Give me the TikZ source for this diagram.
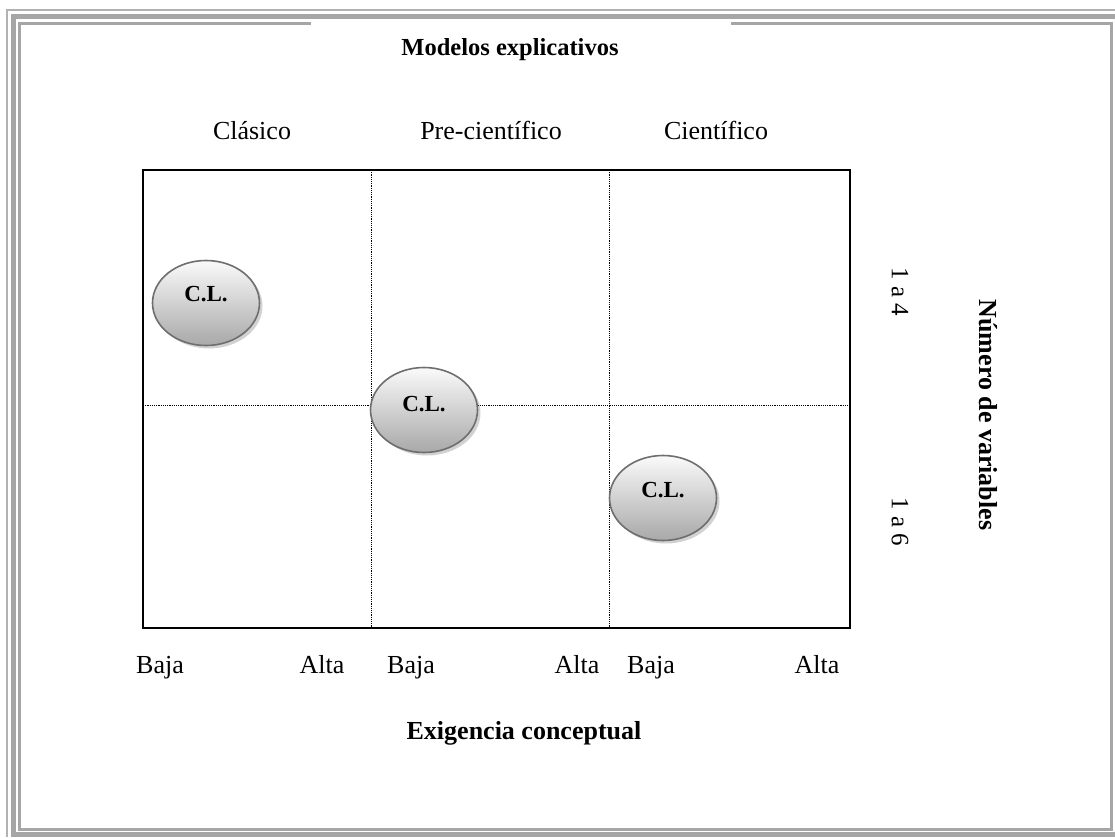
\documentclass[tikz,border=0pt]{standalone}
\usepackage{fontspec}
\setmainfont{Liberation Serif}
\usetikzlibrary{shapes.geometric,shadows}
\definecolor{frameA}{HTML}{B2B2B2}
\definecolor{frameB}{HTML}{A6A6A6}
\definecolor{rimgray}{HTML}{6E6E6E}
\begin{document}
\begin{tikzpicture}[x=1pt,y=-1pt,
  lbl/.style={inner sep=0pt, anchor=base, font=\fontsize{26}{30}\selectfont},
  blbl/.style={inner sep=0pt, anchor=base, font=\fontsize{26}{30}\selectfont\bfseries},
  vlbl/.style={inner sep=0pt, rotate=-90, font=\fontsize{25}{29}\selectfont},
  grid/.style={line width=1pt, dash pattern=on 1.2pt off 1pt},
  cl/.style={ellipse, minimum width=107pt, minimum height=85pt,
    draw=rimgray, line width=1.6pt, top color=gray!4, bottom color=gray!68,
    drop shadow={shadow xshift=3pt, shadow yshift=-3pt, opacity=0.35, fill=gray}},
  cltext/.style={inner sep=0pt, font=\fontsize{23}{27}\selectfont\bfseries}]
\useasboundingbox (0,0) rectangle (1115,837);
\fill[white] (0,0) rectangle (1115,837);

% page border
\draw[frameA, line width=2pt] (7,837) -- (7,10) -- (1115,10);
\draw[frameB, line width=5pt] (13.5,837) -- (13.5,16.5) -- (1115,16.5);
\draw[frameB, line width=5pt] (11,834.5) -- (1115,834.5);
\draw[frameB, line width=3pt] (311,24) -- (19.5,24) -- (19.5,829.5) -- (1111.5,829.5) -- (1111.5,24) -- (731,24);

% chart box and subdivisions
\coordinate (tl) at (143,170);
\coordinate (br) at (850,628);
\draw[line width=2pt] (tl) rectangle (br);
\coordinate (v1t) at (371,170); \coordinate (v1b) at (371,628);
\coordinate (v2t) at (609,170); \coordinate (v2b) at (609,628);
\coordinate (hl) at (143,405); \coordinate (hr) at (850,405);
\draw[grid] (v1t) -- (v1b);
\draw[grid] (v2t) -- (v2b);
\draw[grid] (hl) -- (hr);

% titles and labels
\node[blbl, font=\fontsize{24.5}{28}\selectfont\bfseries] (title) at (510,56) {Modelos explicativos};
\node[lbl] (m1) at (252,140) {Clásico};
\node[lbl] (m2) at (491,140) {Pre-científico};
\node[lbl] (m3) at (716,140) {Científico};

\node[lbl] (b1) at (160,673) {Baja};
\node[lbl] (a1) at (322,673) {Alta};
\node[lbl] (b2) at (411,673) {Baja};
\node[lbl] (a2) at (577,673) {Alta};
\node[lbl] (b3) at (651,673) {Baja};
\node[lbl] (a3) at (817,673) {Alta};
\node[blbl] (xaxis) at (524,739) {Exigencia conceptual};

\node[vlbl] (r1) at (900,292) {1 a 4};
\node[vlbl] (r2) at (900,522) {1 a 6};
\node[inner sep=0pt, rotate=-90, font=\fontsize{26}{30}\selectfont\bfseries] (yaxis) at (988,415) {Número de variables};

% C.L. markers
\node[cl] (e1) at (206,303) {};
\node[cl] (e2) at (424,410) {};
\node[cl] (e3) at (663,498) {};
\node[cltext] (t1) at ([yshift=9pt]e1.center) {C.L.};
\node[cltext] (t2) at ([yshift=6pt]e2.center) {C.L.};
\node[cltext] (t3) at ([yshift=8pt]e3.center) {C.L.};
\end{tikzpicture}
\end{document}
